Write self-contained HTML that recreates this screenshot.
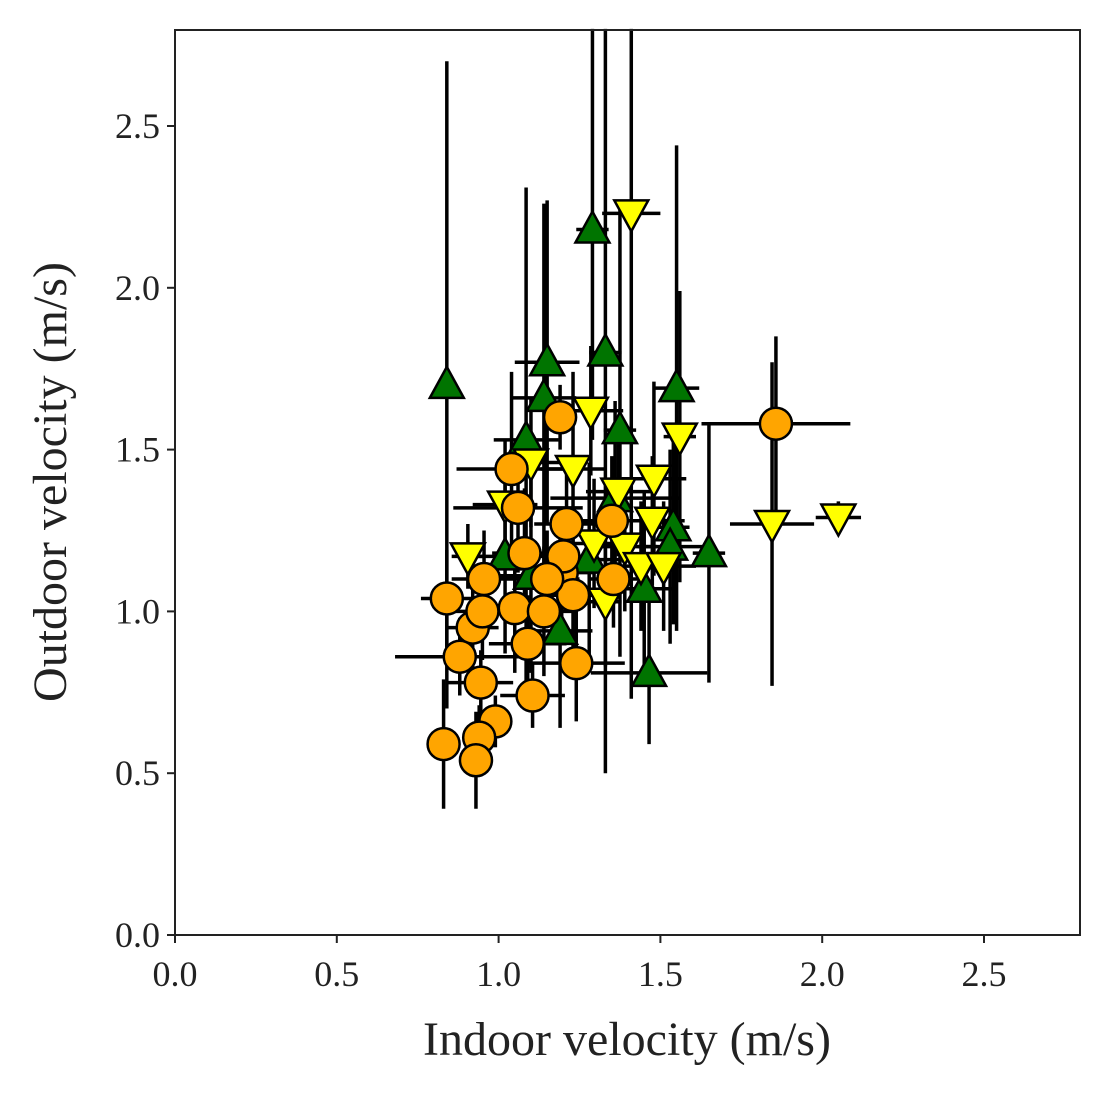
<!DOCTYPE html>
<html><head><meta charset="utf-8"><style>
body{margin:0;background:#fff;}
svg text{font-family:"Liberation Serif",serif;fill:#222;}
</style></head><body>
<svg id="chart" width="1110" height="1095" viewBox="0 0 1110 1095">
<rect x="0" y="0" width="1110" height="1095" fill="#fff"/>
<g id="bars"></g><g id="marks"></g>
<rect x="175" y="30" width="905" height="905" fill="none" stroke="#222" stroke-width="2"/>
<g id="axes"></g>
<text x="627" y="1055" font-size="48" text-anchor="middle">Indoor velocity (m/s)</text>
<text transform="translate(66,482) rotate(-90)" font-size="48" text-anchor="middle">Outdoor velocity (m/s)</text>
</svg>
<script>
const ticks=[0,0.5,1.0,1.5,2.0,2.5];
const tickLabels=["0.0","0.5","1.0","1.5","2.0","2.5"];
const orangeX=[1.857,1.19,1.04,1.06,1.08,1.21,1.35,0.84,0.955,0.92,0.95,0.88,0.945,1.09,1.105,1.24,0.99,0.83,0.94,0.93,1.05,1.14,1.195,1.2,1.23,1.355,1.15];
const orangeY=[1.58,1.60,1.44,1.32,1.18,1.27,1.28,1.04,1.10,0.95,1.00,0.86,0.78,0.90,0.74,0.84,0.66,0.59,0.61,0.54,1.01,1.00,1.12,1.17,1.05,1.10,1.10];
const orangeXErr=[0.23,0.05,0.17,0.2,0.1,0.1,0.1,0.08,0.1,0.08,0.1,0.2,0.1,0.12,0.1,0.15,0.05,0.05,0.05,0.04,0.08,0.1,0.1,0.08,0.1,0.08,0.1];
const orangeYErr=[0.27,0.1,0.3,0.2,0.2,0.2,0.2,0.15,0.15,0.15,0.15,0.12,0.1,0.15,0.1,0.18,0.08,0.2,0.1,0.15,0.2,0.2,0.15,0.15,0.2,0.15,0.15];
const greenX=[0.84,1.29,1.33,1.15,1.14,1.085,1.375,1.55,1.36,1.65,1.54,1.53,1.45,1.465,1.19,1.28,1.10,1.02];
const greenY=[1.70,2.18,1.80,1.77,1.66,1.53,1.56,1.69,1.35,1.18,1.26,1.20,1.07,0.81,0.94,1.16,1.11,1.17];
const greenXErr=[0.02,0.05,0.05,0.1,0.1,0.1,0.05,0.07,0.2,0.05,0.05,0.1,0.1,0.18,0.1,0.1,0.1,0.1];
const greenYErr=[1.0,0.65,1.3,0.5,0.6,0.78,0.7,0.75,0.3,0.4,0.3,0.3,0.3,0.22,0.3,0.3,0.3,0.3];
const yellowX=[1.41,1.285,1.56,1.23,1.10,0.905,1.02,1.48,1.37,1.845,2.05,1.475,1.39,1.295,1.33,1.44,1.51];
const yellowY=[2.23,1.62,1.54,1.44,1.46,1.17,1.33,1.41,1.37,1.27,1.29,1.28,1.20,1.21,1.03,1.14,1.14];
const yellowXErr=[0.09,0.1,0.05,0.1,0.1,0.05,0.1,0.1,0.1,0.13,0.07,0.1,0.1,0.1,0.05,0.1,0.1];
const yellowYErr=[1.5,0.2,0.45,0.3,0.2,0.1,0.2,0.3,0.2,0.5,0.05,0.2,0.2,0.2,0.2,0.2,0.2];

const NS="http://www.w3.org/2000/svg";
const sx=v=>175+v*323.6, sy=v=>935-v*323.6;
const bars=document.getElementById('bars'),marks=document.getElementById('marks'),axes=document.getElementById('axes');
function mk(tag,attrs,parent){const e=document.createElementNS(NS,tag);for(const k in attrs)e.setAttribute(k,attrs[k]);parent.appendChild(e);return e;}
ticks.forEach((t,i)=>{
  const a=mk('line',{x1:sx(t),x2:sx(t),y1:935,y2:943,stroke:'#222','stroke-width':2},axes);
  
  
  const b=mk('text',{x:sx(t),y:986,'font-size':36,'text-anchor':'middle'},axes);b.textContent=tickLabels[i];
  
  
  const c=mk('line',{x1:167,x2:175,y1:sy(t),y2:sy(t),stroke:'#222','stroke-width':2},axes);
  
  
  const d=mk('text',{x:160,y:sy(t)+12,'font-size':36,'text-anchor':'end'},axes);d.textContent=tickLabels[i];
  
  
});
function series(X,Y,XE,YE,color,shape,name){
  X.forEach((x,i)=>{
    const y=Y[i];
    const h=mk('line',{x1:sx(x-XE[i]),x2:sx(x+XE[i]),y1:sy(y),y2:sy(y),stroke:'#000','stroke-width':3.5},bars);
    
    
    const v=mk('line',{x1:sx(x),x2:sx(x),y1:sy(Math.max(0,y-YE[i])),y2:sy(Math.min(2.8,y+YE[i])),stroke:'#000','stroke-width':3.5},bars);
    
    
    const cx=sx(x),cy=sy(y);let m;
    if(shape==='circle')m=mk('circle',{cx:cx,cy:cy,r:16,fill:color,stroke:'#000','stroke-width':2.5},marks);
    else if(shape==='up')m=mk('polygon',{points:`${cx},${cy-18} ${cx-17},${cy+13} ${cx+17},${cy+13}`,fill:color,stroke:'#000','stroke-width':2.5},marks);
    else m=mk('polygon',{points:`${cx},${cy+18} ${cx-17},${cy-13} ${cx+17},${cy-13}`,fill:color,stroke:'#000','stroke-width':2.5},marks);
    
    
  });
}
series(greenX,greenY,greenXErr,greenYErr,'#007400','up','green');
series(yellowX,yellowY,yellowXErr,yellowYErr,'#ffff00','down','yellow');
series(orangeX,orangeY,orangeXErr,orangeYErr,'#ffa500','circle','orange');
</script>
</body></html>
